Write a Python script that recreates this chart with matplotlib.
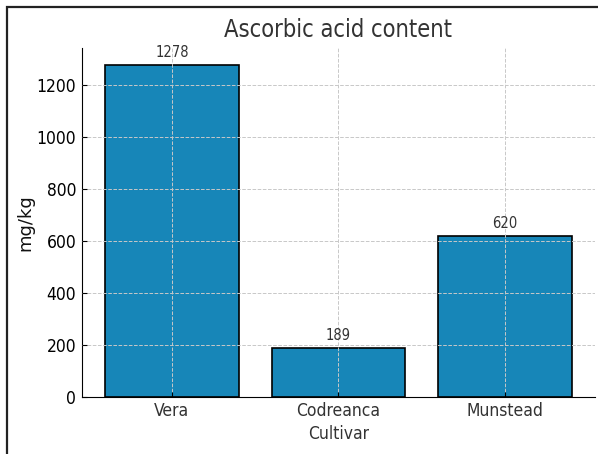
import matplotlib.pyplot as plt
from matplotlib.patches import Rectangle

cultivars = ["Vera", "Codreanca", "Munstead"]
ascorbic = [1278, 189, 620]

BAR = "#1786b8"
INK = "#333333"
plt.rcParams["font.stretch"] = "condensed"

fig = plt.figure(figsize=(5.98, 4.54), dpi=100)
ax = fig.add_axes([0.137, 0.126, 0.858, 0.768])

bars = ax.bar(cultivars, ascorbic, color=BAR, edgecolor="black", linewidth=1.2, width=0.8)
for b, v in zip(bars, ascorbic):
    ax.text(b.get_x() + b.get_width() / 2, v + 18, str(v), ha="center", va="bottom",
            fontsize=10.5, color=INK)

ax.set_title("Ascorbic acid content", fontsize=17, color=INK, pad=8)
ax.set_xlabel("Cultivar", fontsize=12.5, color=INK, labelpad=3)
ax.set_ylabel("mg/kg", fontsize=13, color="#111111", fontstretch="normal", labelpad=2)
ax.tick_params(direction="in", labelsize=12.5, colors="black", pad=4)
for lab in ax.get_xticklabels():
    lab.set_color(INK)
ax.grid(True, linestyle="--", color="#c8c8c8", linewidth=0.7)
ax.set_axisbelow(False)
for s in ("top", "right"):
    ax.spines[s].set_visible(False)

# frame round the figure (cropped at right and bottom)
fig.add_artist(Rectangle((7 / 598, -0.2), 1.5, 1.2 - 7 / 454, transform=fig.transFigure,
                         fill=False, edgecolor="#222222", linewidth=1.6, clip_on=False))

fig.savefig("out.png", dpi=100)
